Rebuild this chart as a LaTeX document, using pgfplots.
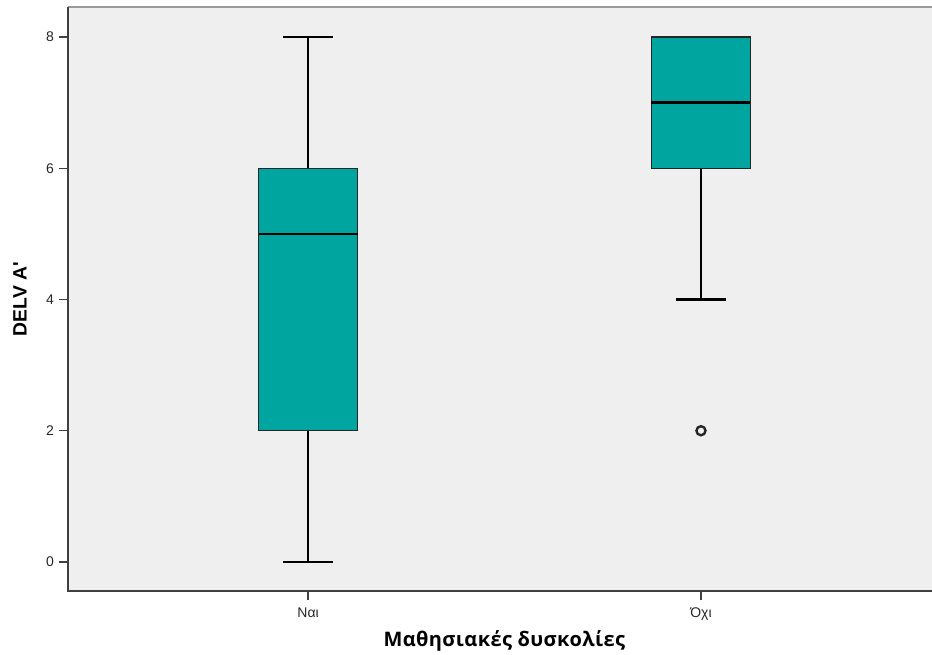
\documentclass[border=0pt]{standalone}
\usepackage{fontspec}
\setmainfont{Liberation Sans}
\newfontfamily\labfont[LetterSpace=2]{Open Sans}
\usepackage{pgfplots}
\pgfplotsset{compat=1.18}
\usepgfplotslibrary{statistics}
\definecolor{bgc}{HTML}{EFEFEF}
\definecolor{boxc}{HTML}{00A5A0}
\definecolor{axc}{HTML}{404040}
\begin{document}
\begin{tikzpicture}
\path[use as bounding box] (-51pt,-48pt) rectangle (648pt,443.25pt);
\begin{axis}[
  at={(0,0)}, anchor=south west,
  scale only axis, width=648pt, height=438pt,
  xmin=0.389, xmax=2.588, ymin=-0.442, ymax=8.457,
  axis line style={draw=none},
  axis background/.style={fill=bgc},
  xtick={1,2}, xticklabels={Ναι,Όχι},
  ytick={0,2,4,6,8},
  tick pos=left, tick align=outside,
  major tick length=7pt,
  tick style={draw=axc, line width=1pt},
  /pgf/number format/assume math mode=true,
  tick label style={font=\fontsize{10.5}{12}\selectfont, text=black!85},
  xticklabel style={yshift=-2pt},
  ylabel={\textbf{DELV A\textquotesingle}},
  ylabel style={font=\fontsize{14.5}{16}\selectfont, at={(axis description cs:-0.0556,0.5)}, anchor=center},
  xlabel={\labfont\bfseries Μαθησιακές δυσκολίες},
  xlabel style={font=\fontsize{15}{16}\selectfont, at={(axis description cs:0.505,0)}, anchor=center, yshift=-37.5pt},
  clip=false,
  boxplot/draw direction=y,
  boxplot/box extend=0.252,
  boxplot/whisker extend=0.127,
]
\draw[color=gray!80, line width=2pt] (rel axis cs:0,1) -- (rel axis cs:1,1);
\draw[color=axc, line width=1.5pt] (rel axis cs:0,1) -- (rel axis cs:0,0) -- (rel axis cs:1,0);
\addplot+[boxplot prepared={draw position=1, lower whisker=0, lower quartile=2, median=5, upper quartile=6, upper whisker=8},
  fill=boxc, draw=black!85, line width=0.8pt,
  boxplot/every whisker/.style={draw=black, line width=1.6pt},
  boxplot/every median/.style={draw=black, line width=1.8pt}]
  coordinates {};
\addplot+[boxplot prepared={draw position=2, lower whisker=4, lower quartile=6, median=7, upper quartile=8, upper whisker=8},
  fill=boxc, draw=black!85, line width=0.8pt, mark=o, mark size=3.4pt, mark options={draw=black!85, line width=1.8pt, fill=none},
  boxplot/every whisker/.style={draw=black, line width=1.6pt},
  boxplot/every median/.style={draw=black, line width=1.8pt}]
  coordinates {(0,2)};
\end{axis}
\end{tikzpicture}
\end{document}
